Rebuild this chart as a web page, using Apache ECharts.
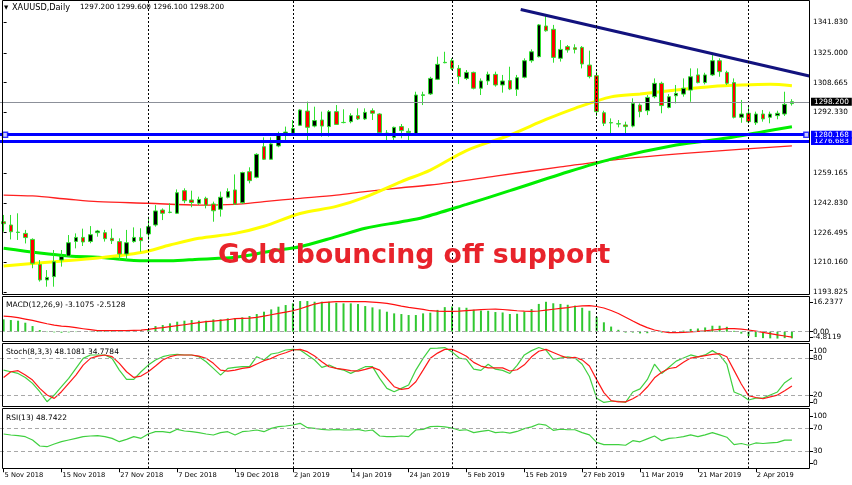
<!DOCTYPE html>
<html><head><meta charset="utf-8">
<script src="https://cdn.jsdelivr.net/npm/echarts@6/dist/echarts.min.js"></script>
<style>html,body{margin:0;padding:0;background:#fff;}#c{width:852px;height:485px;}</style>
</head><body><div id="c"></div>
<script>
const dates = ['5 Nov 2018','6 Nov 2018','7 Nov 2018','8 Nov 2018','9 Nov 2018','12 Nov 2018','13 Nov 2018','14 Nov 2018','15 Nov 2018','16 Nov 2018',
'19 Nov 2018','20 Nov 2018','21 Nov 2018','22 Nov 2018','23 Nov 2018','26 Nov 2018','27 Nov 2018','28 Nov 2018','29 Nov 2018','30 Nov 2018',
'3 Dec 2018','4 Dec 2018','5 Dec 2018','6 Dec 2018','7 Dec 2018','10 Dec 2018','11 Dec 2018','12 Dec 2018','13 Dec 2018','14 Dec 2018',
'17 Dec 2018','18 Dec 2018','19 Dec 2018','20 Dec 2018','21 Dec 2018','24 Dec 2018','26 Dec 2018','27 Dec 2018','28 Dec 2018','31 Dec 2018',
'2 Jan 2019','3 Jan 2019','4 Jan 2019','7 Jan 2019','8 Jan 2019','9 Jan 2019','10 Jan 2019','11 Jan 2019','14 Jan 2019','15 Jan 2019',
'16 Jan 2019','17 Jan 2019','18 Jan 2019','21 Jan 2019','22 Jan 2019','23 Jan 2019','24 Jan 2019','25 Jan 2019','28 Jan 2019','29 Jan 2019',
'30 Jan 2019','31 Jan 2019','1 Feb 2019','4 Feb 2019','5 Feb 2019','6 Feb 2019','7 Feb 2019','8 Feb 2019','11 Feb 2019','12 Feb 2019',
'13 Feb 2019','14 Feb 2019','15 Feb 2019','18 Feb 2019','19 Feb 2019','20 Feb 2019','21 Feb 2019','22 Feb 2019','25 Feb 2019','26 Feb 2019',
'27 Feb 2019','28 Feb 2019','1 Mar 2019','4 Mar 2019','5 Mar 2019','6 Mar 2019','7 Mar 2019','8 Mar 2019','11 Mar 2019','12 Mar 2019',
'13 Mar 2019','14 Mar 2019','15 Mar 2019','18 Mar 2019','19 Mar 2019','20 Mar 2019','21 Mar 2019','22 Mar 2019','25 Mar 2019','26 Mar 2019',
'27 Mar 2019','28 Mar 2019','29 Mar 2019','1 Apr 2019','2 Apr 2019','3 Apr 2019','4 Apr 2019','5 Apr 2019','8 Apr 2019','9 Apr 2019'];

const opens = [1232.5,1230.7,1226.6,1226.1,1222.8,1209.1,1200.6,1202.4,1211.5,1213.7,1221.7,1223.9,1221.7,1226.5,1226.5,1223.4,1221.6,1214.8,1221.6,1223.9,
1225.8,1230.7,1238.9,1237.6,1237.1,1249.5,1244.4,1242.6,1245.3,1242.2,1239.3,1245.9,1249.9,1242.9,1259.9,1256.8,1273.6,1266.7,1274.0,1280.2,
1280.9,1285.3,1293.1,1284.9,1288.2,1284.6,1292.8,1286.8,1287.3,1290.6,1288.8,1293.3,1291.5,1280.9,1278.7,1284.6,1282.0,1280.5,1301.7,1302.5,
1310.5,1319.6,1320.7,1316.5,1311.0,1314.3,1305.6,1309.6,1313.2,1307.4,1309.8,1305.0,1311.6,1320.7,1322.9,1339.7,1337.9,1322.0,1328.4,1327.8,
1328.0,1318.3,1312.5,1292.2,1286.8,1286.0,1285.5,1284.9,1296.4,1293.3,1301.0,1308.3,1295.1,1301.5,1302.4,1304.6,1312.9,1308.7,1312.9,1320.7,
1314.3,1308.7,1289.7,1291.9,1286.7,1291.5,1289.7,1290.6,1291.5,1297.2];
const highs = [1236.2,1236.2,1237.1,1228.0,1223.4,1211.5,1206.0,1217.0,1217.0,1225.2,1226.1,1228.7,1230.1,1228.0,1228.0,1228.7,1223.4,1228.0,1229.4,1228.9,
1235.3,1241.6,1239.8,1242.6,1250.2,1250.8,1249.5,1246.2,1246.2,1243.5,1249.0,1250.8,1258.4,1259.9,1262.3,1270.0,1278.7,1278.7,1281.8,1284.6,
1288.2,1294.1,1298.3,1295.5,1292.8,1293.7,1296.4,1294.1,1291.9,1294.6,1294.6,1294.6,1291.9,1282.7,1284.6,1286.0,1283.7,1303.7,1303.7,1311.9,
1322.9,1325.6,1322.0,1318.3,1315.6,1314.7,1311.0,1314.7,1314.7,1312.9,1317.4,1312.9,1322.0,1326.9,1340.8,1345.7,1340.3,1332.0,1329.3,1329.7,
1328.7,1326.2,1314.7,1293.3,1289.1,1288.2,1287.3,1300.1,1297.3,1301.9,1311.0,1309.2,1302.4,1307.4,1311.0,1316.5,1316.5,1314.1,1323.8,1322.0,
1315.2,1311.0,1299.2,1296.4,1292.8,1293.7,1292.8,1293.3,1303.7,1299.6];
const lows = [1227.0,1222.8,1222.5,1220.6,1207.0,1199.7,1196.9,1196.9,1207.9,1213.4,1217.9,1219.2,1220.7,1224.3,1221.6,1220.3,1211.5,1211.5,1221.0,1216.1,
1222.5,1229.8,1233.4,1237.1,1236.7,1242.6,1240.4,1241.6,1239.8,1232.5,1235.3,1245.3,1241.7,1242.2,1253.5,1256.3,1266.3,1266.3,1273.3,1276.3,
1280.0,1284.9,1275.8,1284.2,1279.1,1279.1,1285.5,1286.4,1286.4,1288.2,1288.2,1288.2,1280.9,1276.3,1277.3,1278.2,1276.3,1280.0,1296.4,1301.9,
1310.1,1319.3,1315.6,1307.9,1310.1,1305.0,1301.9,1307.4,1306.5,1303.2,1304.6,1301.4,1311.0,1319.6,1322.5,1336.6,1319.6,1320.2,1325.1,1324.7,
1316.5,1311.0,1290.4,1284.9,1280.9,1284.2,1280.0,1284.2,1289.7,1290.9,1300.1,1291.9,1294.6,1297.3,1301.0,1298.2,1308.3,1307.7,1312.3,1311.9,
1307.4,1289.1,1286.7,1286.4,1285.5,1287.3,1286.4,1288.6,1290.4,1296.1];
const closes = [1231.4,1227.0,1226.8,1223.8,1209.7,1200.6,1202.0,1210.6,1213.4,1221.0,1223.9,1221.4,1225.4,1227.4,1223.2,1222.1,1214.8,1221.0,1223.9,1222.1,
1229.8,1238.4,1237.1,1237.7,1248.4,1244.0,1243.0,1244.7,1241.6,1238.5,1245.9,1249.0,1242.2,1259.4,1255.0,1269.4,1266.7,1275.1,1280.0,1281.6,
1283.5,1293.7,1284.2,1287.9,1284.9,1292.8,1285.8,1286.9,1290.6,1288.8,1292.4,1291.9,1281.3,1281.0,1284.2,1282.4,1281.4,1301.9,1302.0,1311.0,
1318.7,1319.8,1316.5,1312.0,1314.3,1305.6,1309.6,1313.2,1307.4,1309.6,1305.2,1311.4,1320.7,1325.6,1340.3,1337.1,1322.5,1326.9,1326.6,1326.9,
1318.9,1312.0,1292.8,1286.4,1286.6,1286.2,1284.6,1297.3,1292.8,1300.6,1308.3,1296.1,1301.0,1302.8,1305.6,1311.9,1308.7,1312.9,1320.7,1314.7,
1308.3,1289.7,1291.5,1287.3,1291.5,1288.8,1291.5,1291.9,1296.8,1298.2];

const yellowMA = [[0,1208.2],[7,1210.6],[13,1212.6],[19,1215.6],[23,1219.7],[27,1223.4],[32,1226.1],[36,1230.0],[41,1237.0],[46,1240.9],[50,1246.0],[55,1254.5],[59,1260.8],[64,1271.5],[70,1280.0],[75,1288.5],[79,1294.6],[84,1300.9],[88,1302.4],[93,1304.6],[98,1306.6],[102,1307.4],[106,1307.8],[109,1307.0]];
const greenMA = [[0,1217.9],[5,1215.3],[9,1213.7],[14,1212.8],[18,1211.3],[23,1211.1],[27,1212.0],[32,1213.0],[37,1216.4],[41,1218.8],[46,1224.3],[50,1228.9],[55,1232.5],[58,1234.8],[64,1242.0],[70,1249.5],[77,1258.5],[84,1266.8],[93,1274.5],[100,1278.3],[105,1281.8],[109,1284.5]];
const redMA = [[0,1247.1],[4,1246.6],[9,1244.8],[13,1243.5],[20,1242.6],[27,1241.6],[32,1242.0],[36,1243.5],[41,1245.3],[46,1247.1],[50,1249.0],[55,1251.1],[59,1252.6],[68,1257.5],[77,1262.5],[85,1266.7],[97,1270.8],[109,1274.0]];

const macdMain = [5.77,5.46,5.15,4.21,2.65,0.78,-0.16,-0.31,-0.47,-0.31,-0.16,0,0.16,0.47,0.78,0.62,0.47,0.16,0.47,0.78,
1.09,2.65,3.12,3.9,4.68,5.15,5.46,5.15,5.15,5.77,5.77,6.24,6.24,6.71,7.33,8.27,9.36,10.45,11.7,12.47,
13.26,14.35,14.35,14.03,14.03,14.03,13.56,13.26,13.26,12.94,12.0,11.38,10.45,9.36,8.58,8.27,7.8,7.8,8.58,8.89,
10.2,11.5,11.8,11.4,11.2,10.3,9.9,9.8,9.2,9.0,8.3,8.4,9.4,10.6,13.0,14.0,13.3,13.0,12.6,12.2,
11.2,9.8,7.0,4.4,2.4,0.9,-0.4,-0.4,-0.8,-0.7,0.2,-0.4,-0.3,0.0,0.5,1.3,1.5,2.0,2.8,2.8,
2.3,0.4,-0.9,-2.1,-2.5,-3.0,-3.1,-3.2,-3.0,-3.1075];
const macdSignal = [7.33,7.02,6.55,5.93,5.3,4.52,3.74,3.12,2.65,2.34,1.87,1.4,0.94,0.47,0.47,0.47,0.47,0.47,0.62,0.78,
1.09,1.56,1.87,2.34,2.81,3.27,3.74,4.21,4.68,4.99,5.3,5.61,6.08,6.24,6.39,6.71,7.33,7.95,8.58,9.2,
9.82,10.76,11.85,12.94,13.57,13.88,14.03,14.03,14.03,14.03,14.03,13.88,13.57,13.25,12.63,12.0,11.38,10.92,10.45,9.82,
9.6,9.5,9.5,9.6,9.9,10.1,10.3,10.5,10.6,10.4,10.1,9.8,9.6,9.5,9.7,10.1,10.5,10.9,11.3,11.8,
12.1,12.2,11.8,11.1,9.9,8.5,6.8,5.0,3.3,1.9,0.8,0.1,-0.4,-0.4,-0.3,-0.1,0.2,0.4,0.8,1.1,
1.4,1.4,1.2,0.8,0.3,-0.3,-0.9,-1.5,-2.0,-2.5128];

const stochMain = [60.5,57.8,55.1,48.6,38.9,25.4,9.2,20,33.5,47,63.2,79.5,84.9,84.9,84.9,79.5,60.5,45.4,45.4,57.8,
68.6,76.8,82.2,84.9,85.9,84.9,84.9,82.2,74,63.2,52.4,63.2,64.9,66,66,82.2,76.8,86.5,88.6,93,
94,93,84.9,76.8,64.9,68.6,63.2,60.5,55.1,60.5,66,66,47,30.8,25.4,30.8,36.2,60.5,79.5,95.7,
96,97,90,80,78,62,60,70,62,60,55,68,85,92,97,93,78,80,82,80,
70,50,15,8,10,10,8,25,30,45,70,55,65,75,80,85,82,85,92,85,
70,25,20,12,15,15,20,25,40,48.1081];
const stochSignal = [48.6,57.8,59.5,52.4,44.3,30.8,20,14.6,25.4,38.9,52.4,68.6,79.5,83.2,84.9,82.2,71.4,57.8,48.6,50.8,
57.8,67,76.8,82.2,84.9,84.9,84.9,83.2,79.5,71.4,60.5,58.9,60.5,63.2,64.9,70.3,75.7,79.5,84.9,88.6,
93,94.1,90.3,83.2,74.1,65.9,63.2,61.6,59.5,58.9,61.6,64.9,60.5,47,33.5,29.2,30.8,41.6,60.5,79.5,
88,94,94,89,83,73,67,64,64,64,59,61,69,82,91,94,89,84,80,81,
77,67,45,24,11,9,9,14,21,33,48,57,63,65,73,80,82,84,86,87,
82,60,38,19,16,14,17,20,27,34.7784];
const rsiValues = [59.6,57.8,56.7,54.9,49.1,38.7,37.5,42.2,46.2,49.1,52,54.9,56.1,56.7,54.9,52,46.2,50.3,54.9,52,
59.6,63.6,63.6,61.9,67.7,64.8,63.6,61.9,59.6,57.8,61.9,63.6,57.8,63.6,64.8,66.5,63.6,69.4,72.3,73.5,
75.2,78.1,70.6,69.4,67.7,66.5,67.7,66.5,66.5,67.7,64.8,66.5,56.1,54.9,54.9,56.1,54.9,66.5,67.7,72.3,
73,72,70,66,67,62,64,66,62,63,61,64,69,72,77,75,66,68,67,67,
62,58,45,41,41,41,40,48,46,51,56,48,52,53,55,58,55,58,62,58,
54,41,43,40,44,43,44,45,49,48.7422];

const priceTicks = [1341.83,1325.0,1308.665,1292.33,1259.165,1242.83,1226.495,1210.16,1193.825];
const macdTicks = [16.2377,0,-4.8119];
const stochTicks = [100,80,20,0];
const stochLevels = [80,20];
const rsiTicks = [100,70,30,0];
const rsiLevels = [70,30];
const supportLevels = [1276.683,1280.168];
const bidPrice = 1298.2;
const trendLine = [[71.5,1348.7],[111.4,1312.3]];
const supportHandles = [[0.2,1280.168],[111,1280.168]];
const monthStarts = [20,40,62,82,103];
const symbolName = 'XAUUSD,Daily';
const lastBar = [1297.2,1299.6,1296.1,1298.2];
const headline = 'Gold bouncing off support';

const F = 'DejaVu Sans';
const cats = dates.concat(['','']);
const N = cats.length;

const grids = [
  {left:0, width:810, top:0, height:295},
  {left:0, width:810, top:297, height:45},
  {left:0, width:810, top:345.7, height:61.7},
  {left:0, width:810, top:410.75, height:57.5}
];

function catAxis(gi, showLabels){
  return {
    type:'category', gridIndex:gi, data:cats, boundaryGap:true,
    axisLine:{show:false, onZero:false}, splitLine:{show:false},
    axisTick: showLabels ? {show:true, interval:7, alignWithLabel:true, length:4, lineStyle:{color:'#000'}} : {show:false},
    axisLabel: showLabels ? {show:true, interval:7, align:'left', margin:4, fontSize:6.7, fontFamily:F, color:'#000', padding:[0,0,0,1]} : {show:false}
  };
}
function labelAxis(gi, min, max, ticks, fmt, showTicks){
  return {
    type:'value', gridIndex:gi, position:'right', min:min, max:max,
    axisLine:{show:false}, splitLine:{show:false},
    axisTick:{show:showTicks !== false, customValues:ticks, length:3, lineStyle:{color:'#000'}},
    axisLabel:{customValues:ticks, formatter:fmt, showMinLabel:true, showMaxLabel:true, hideOverlap:false,
      margin:3, fontSize:7.3, fontFamily:F, color:'#000'}
  };
}
// primary axis (inner labels) + two label axes whose range is nudged 5px so that the
// extreme labels sit just inside the panel, as MetaTrader draws them
function panelAxes(gi, ticks, txt, heightPx){
  const max = ticks[0], min = ticks[ticks.length-1];
  const s = 5 * (max - min) / heightPx;
  return [
    labelAxis(gi, min, max, ticks.slice(1, -1), txt),
    labelAxis(gi, min + s, max + s, [max], txt),
    labelAxis(gi, min - s, max - s, [min], txt)
  ];
}

const sepLines = monthStarts.map(m => ({xAxis:m}));
const sepStyle = {color:'#000', type:[2,2], width:1};
function levelLines(levels){ return levels.map(l => ({yAxis:l, lineStyle:{color:'#a8a8a8', type:[4,3], width:1}})); }

const lineLabel = (bg, txt) => ({show:true, position:'end', distance:1, formatter:txt,
  color:'#fff', backgroundColor:bg, padding:[1,3,0,3], fontSize:7.3, fontFamily:F});

const yAxes = [labelAxis(0, 1192.35, 1353.95, priceTicks, v => v.toFixed(3))];
const MACD_Y = yAxes.length;
yAxes.push(...panelAxes(1, macdTicks, v => Math.abs(v) < 1e-9 ? '0.00' : v.toFixed(4), grids[1].height));
const STOCH_Y = yAxes.length;
yAxes.push(...panelAxes(2, stochTicks, v => String(Math.round(v)), grids[2].height));
const RSI_Y = yAxes.length;
yAxes.push(...panelAxes(3, rsiTicks, v => String(Math.round(v)), grids[3].height));

const option = {
  animation:false,
  backgroundColor:'#fff',
  grid: grids,
  xAxis: [catAxis(0,false), catAxis(1,false), catAxis(2,false), catAxis(3,true),
    {type:'value', gridIndex:0, min:-0.5, max:N-0.5, show:false}],
  yAxis: yAxes,
  series: [
    {type:'line', xAxisIndex:4, yAxisIndex:0, data:redMA, showSymbol:false, smooth:0.3, z:2,
      lineStyle:{color:'#ff2020', width:1.3}},
    {type:'line', xAxisIndex:4, yAxisIndex:0, data:greenMA, showSymbol:false, smooth:0.3, z:2,
      lineStyle:{color:'#00ee00', width:3}},
    {type:'line', xAxisIndex:4, yAxisIndex:0, data:yellowMA, showSymbol:false, smooth:0.3, z:2,
      lineStyle:{color:'#ffff00', width:3}},
    {type:'candlestick', xAxisIndex:0, yAxisIndex:0, z:3, barWidth:4,
      data: dates.map((d,i) => [opens[i], closes[i], lows[i], highs[i]]),
      itemStyle:{color:'#000000', color0:'#ff0000', borderColor:'#30e030', borderColor0:'#30e030', borderWidth:1},
      markLine:{symbol:['none','none'], silent:true, animation:false,
        data: sepLines.map(o => Object.assign({lineStyle:sepStyle, label:{show:false}}, o))
          .concat([
            {yAxis:bidPrice, lineStyle:{color:'#8c9099', width:1, type:'solid'}, label:lineLabel('#000', bidPrice.toFixed(3))},
            {yAxis:supportLevels[0], lineStyle:{color:'#0000ff', width:3, type:'solid'}, label:lineLabel('#0000ff', supportLevels[0].toFixed(3))},
            {yAxis:supportLevels[1], lineStyle:{color:'#0000ff', width:3, type:'solid'}, label:lineLabel('#0000ff', supportLevels[1].toFixed(3))}
          ])}
    },
    {type:'line', xAxisIndex:4, yAxisIndex:0, data:trendLine, showSymbol:false, z:4,
      lineStyle:{color:'#12127e', width:3}},
    {type:'scatter', xAxisIndex:4, yAxisIndex:0, data:supportHandles, symbol:'rect', symbolSize:5, z:5,
      itemStyle:{color:'#ffffff', borderColor:'#0000ff', borderWidth:1.5}},
    {type:'bar', xAxisIndex:1, yAxisIndex:MACD_Y, data:macdMain, barWidth:2, itemStyle:{color:'#30c830'},
      markLine:{symbol:['none','none'], silent:true,
        data: sepLines.map(o => Object.assign({lineStyle:sepStyle, label:{show:false}}, o))
          .concat([{yAxis:0, lineStyle:{color:'#a8a8a8', type:[4,3], width:1}, label:{show:false}}])}},
    {type:'line', xAxisIndex:1, yAxisIndex:MACD_Y, data:macdSignal, showSymbol:false, lineStyle:{color:'#ff1010', width:1.2}},
    {type:'line', xAxisIndex:2, yAxisIndex:STOCH_Y, data:stochMain, showSymbol:false, lineStyle:{color:'#40d040', width:1.2},
      markLine:{symbol:['none','none'], silent:true,
        data: sepLines.map(o => Object.assign({lineStyle:sepStyle, label:{show:false}}, o))
          .concat(levelLines(stochLevels).map(o => Object.assign({label:{show:false}}, o)))}},
    {type:'line', xAxisIndex:2, yAxisIndex:STOCH_Y, data:stochSignal, showSymbol:false, lineStyle:{color:'#ff1818', width:1.2}},
    {type:'line', xAxisIndex:3, yAxisIndex:RSI_Y, data:rsiValues, showSymbol:false, lineStyle:{color:'#40d040', width:1.2},
      markLine:{symbol:['none','none'], silent:true,
        data: sepLines.map(o => Object.assign({lineStyle:sepStyle, label:{show:false}}, o))
          .concat(levelLines(rsiLevels).map(o => Object.assign({label:{show:false}}, o)))}}
  ],
  graphic: [
    {type:'rect', z:100, silent:true, shape:{x:2.5, y:0.5, width:807, height:294}, style:{fill:null, stroke:'#000', lineWidth:1}},
    {type:'rect', z:100, silent:true, shape:{x:2.5, y:296.5, width:807, height:45}, style:{fill:null, stroke:'#000', lineWidth:1}},
    {type:'rect', z:100, silent:true, shape:{x:2.5, y:343.5, width:807, height:63}, style:{fill:null, stroke:'#000', lineWidth:1}},
    {type:'rect', z:100, silent:true, shape:{x:2.5, y:408.5, width:807, height:60}, style:{fill:null, stroke:'#000', lineWidth:1}},
    {type:'text', z:101, x:4, y:7.5, style:{text:'\u25BC', fontSize:5.5, fontFamily:F, fill:'#000', verticalAlign:'middle'}},
    {type:'text', z:101, x:12, y:7.5, style:{text:symbolName, fontSize:8.2, fontFamily:F, fill:'#000', verticalAlign:'middle'}},
    {type:'text', z:101, x:80, y:7.5, style:{text:lastBar.map(v => v.toFixed(3)).join(' '), fontSize:7.2, fontFamily:F, fill:'#000', verticalAlign:'middle'}},
    {type:'text', z:101, x:6, y:305, style:{text:'MACD(12,26,9) ' + macdMain[macdMain.length-1].toFixed(4) + ' ' + macdSignal[macdSignal.length-1].toFixed(4), fontSize:7.5, fontFamily:F, fill:'#000', verticalAlign:'middle'}},
    {type:'text', z:101, x:6, y:352.3, style:{text:'Stoch(8,3,3) ' + stochMain[stochMain.length-1].toFixed(4) + ' ' + stochSignal[stochSignal.length-1].toFixed(4), fontSize:7.5, fontFamily:F, fill:'#000', verticalAlign:'middle'}},
    {type:'text', z:101, x:6, y:417.7, style:{text:'RSI(13) ' + rsiValues[rsiValues.length-1].toFixed(4), fontSize:7.5, fontFamily:F, fill:'#000', verticalAlign:'middle'}},
    {type:'text', z:101, x:218, y:256, style:{text:headline, fontSize:26.7, fontWeight:'bold', fontFamily:F, fill:'#e8232b', verticalAlign:'middle'}}
  ]
};
const chart = echarts.init(document.getElementById('c'), null, {renderer:'canvas'});
chart.setOption(option);
</script>
</body></html>
